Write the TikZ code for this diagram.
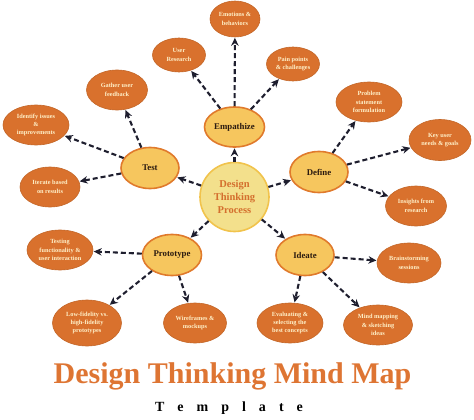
\documentclass[tikz,border=0pt]{standalone}
\usepackage{fontspec}
\setmainfont{Liberation Serif}
\usetikzlibrary{shapes.geometric,arrows.meta}
\definecolor{leaffill}{HTML}{D9712D}
\definecolor{leaftext}{HTML}{FFF0C8}
\definecolor{mainfill}{HTML}{F6C65E}
\definecolor{mainline}{HTML}{E07A2C}
\definecolor{cenfill}{HTML}{F3E08C}
\definecolor{cenline}{HTML}{F1C34C}
\definecolor{centext}{HTML}{D46F2E}
\definecolor{titlecol}{HTML}{DE7533}
\definecolor{arrowcol}{HTML}{1E1E2E}
\definecolor{maintext}{HTML}{2A1A10}
\tikzset{
  leaf/.style={ellipse, fill=leaffill, draw=leaffill!90!black, line width=0.6pt, inner sep=0pt,
    text=leaftext, align=center, font=\bfseries\fontsize{6.3}{8.4}\selectfont},
  mainbox/.style={ellipse, fill=mainfill, draw=mainline, line width=1.6pt, inner sep=0pt,
    text=maintext, font=\bfseries\fontsize{8.8}{11}\selectfont},
  hub/.style={circle, fill=cenfill, draw=cenline, line width=1.6pt, inner sep=0pt,
    minimum size=69pt, text=centext, align=center, font=\bfseries\fontsize{10.5}{13}\selectfont},
  conn/.style={draw=arrowcol, line width=2.1pt, dash pattern=on 5pt off 3pt,
    -{Stealth[length=8pt,width=7.5pt]}, shorten >=0.5pt},
}
\begin{document}
\begin{tikzpicture}[x=1pt,y=-1pt]
\useasboundingbox (0,0) rectangle (474,420);
% hub and main nodes
\node[hub] (c) at (234.5,197) {Design\\Thinking\\Process};
\node[mainbox, minimum width=60pt, minimum height=40pt] (emp) at (234.5,127) {Empathize};
\node[mainbox, minimum width=58pt, minimum height=41pt] (def) at (319,172) {Define};
\node[mainbox, minimum width=58pt, minimum height=41pt] (ide) at (305,255) {Ideate};
\node[mainbox, minimum width=59pt, minimum height=41pt] (pro) at (172,255) {Prototype};
\node[mainbox, minimum width=58pt, minimum height=41pt] (tst) at (150,168) {Test};
% leaves
\node[leaf, minimum width=50pt, minimum height=36pt] (l1) at (235,19) {Emotions \&\\behaviors};
\node[leaf, minimum width=53pt, minimum height=34pt] (l2) at (179,55) {User\\Research};
\node[leaf, minimum width=53pt, minimum height=34pt] (l3) at (293,64) {Pain points\\\& challenges};
\node[leaf, minimum width=66pt, minimum height=40pt] (l4) at (369,102) {Problem\\statement\\formulation};
\node[leaf, minimum width=62pt, minimum height=41pt] (l5) at (440,140) {Key user\\needs \& goals};
\node[leaf, minimum width=61pt, minimum height=40pt] (l6) at (416,206) {Insights from\\research};
\node[leaf, minimum width=64pt, minimum height=40pt] (l7) at (409,263) {Brainstorming\\sessions};
\node[leaf, minimum width=69pt, minimum height=40pt] (l8) at (378,325) {Mind mapping\\\& sketching\\ideas};
\node[leaf, minimum width=66pt, minimum height=40pt] (l9) at (290,323) {Evaluating \&\\selecting the\\best concepts};
\node[leaf, minimum width=63pt, minimum height=40pt] (l10) at (195,323) {Wireframes \&\\mockups};
\node[leaf, minimum width=69pt, minimum height=46pt] (l11) at (87,323) {Low-fidelity vs.\\high-fidelity\\prototypes};
\node[leaf, minimum width=66pt, minimum height=40pt] (l12) at (60,250) {Testing\\functionality \&\\user interaction};
\node[leaf, minimum width=60pt, minimum height=40pt] (l13) at (50,187) {Iterate based\\on results};
\node[leaf, minimum width=66pt, minimum height=40pt] (l14) at (36,125) {Identify issues\\\&\\improvements};
\node[leaf, minimum width=61pt, minimum height=40pt] (l15) at (117,90) {Gather user\\feedback};
% connectors hub -> main
\draw[conn] (c) -- (emp);
\draw[conn] (c) -- (def);
\draw[conn] (c) -- (ide);
\draw[conn] (c) -- (pro);
\draw[conn] (c) -- (tst);
% main -> leaves
\draw[conn] (emp) -- (l1);
\draw[conn] (emp) -- (l2);
\draw[conn] (emp) -- (l3);
\draw[conn] (def) -- (l4);
\draw[conn] (def) -- (l5);
\draw[conn] (def) -- (l6);
\draw[conn] (ide) -- (l7);
\draw[conn] (ide) -- (l8);
\draw[conn] (ide) -- (l9);
\draw[conn] (pro) -- (l10);
\draw[conn] (pro) -- (l11);
\draw[conn] (pro) -- (l12);
\draw[conn] (tst) -- (l13);
\draw[conn] (tst) -- (l14);
\draw[conn] (tst) -- (l15);
% title
\node[text=titlecol, font=\bfseries\fontsize{30}{32}\selectfont] (title) at (232.5,376) {Design Thinking Mind Map};
\node[text=black, font=\bfseries\fontsize{14}{16}\selectfont] (sub) at (229,408) {T\hspace{13pt}e\hspace{13pt}m\hspace{13pt}p\hspace{13pt}l\hspace{13pt}a\hspace{13pt}t\hspace{13pt}e};
\end{tikzpicture}
\end{document}
